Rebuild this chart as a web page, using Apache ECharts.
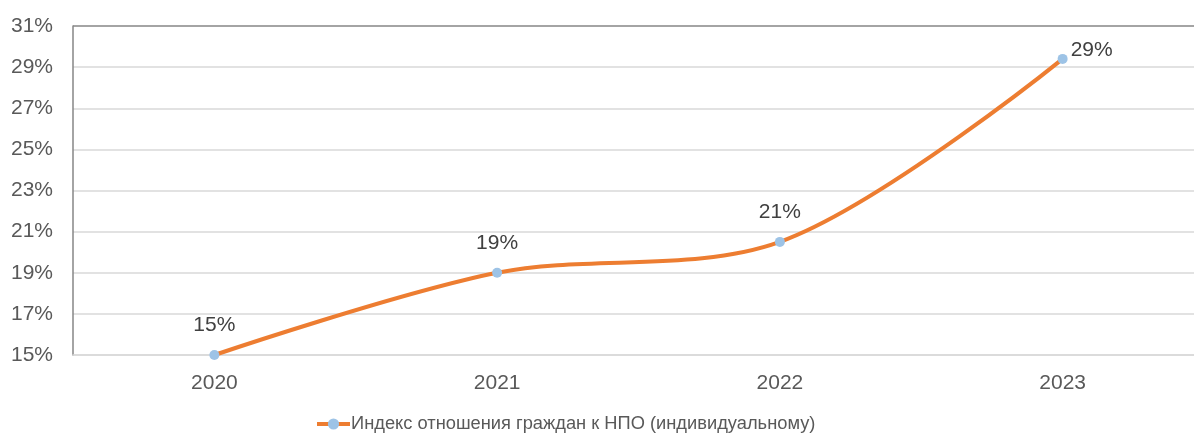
<!DOCTYPE html>
<html>
<head>
<meta charset="utf-8">
<script src="https://cdn.jsdelivr.net/npm/echarts@6/dist/echarts.min.js"></script>
<style>
  html, body { margin: 0; padding: 0; background: #fff; overflow: hidden; }
  /* область построения уходит за правый край окна, как в исходнике */
  #chart { width: 1204px; height: 433px; }
</style>
</head>
<body>
<div id="chart"></div>
<script>
// данные графика
const years = ["2020", "2021", "2022", "2023"]
const indexValues = [15.0, 19.0, 20.5, 29.4]
const valueLabels = ["15%", "19%", "21%", "29%"]
const seriesName = "Индекс отношения граждан к НПО (индивидуальному)"

const font = "Arial, 'Liberation Sans', sans-serif"

const myChart = echarts.init(document.getElementById("chart"))

const option = {
    animation: false,
    backgroundColor: "#fff",
    textStyle: { fontFamily: font },
    grid: { left: 73, top: 26, bottom: 78, right: 0, containLabel: false },
    legend: {
        top: 415,
        left: 315,
        padding: 0,
        itemWidth: 33,
        itemHeight: 14,
        itemGap: 0,
        lineStyle: { width: 4 },
        textStyle: { fontSize: 18.3, color: "#595959", fontFamily: font, padding: [0, 0, 0, -4] },
        data: [seriesName]
    },
    xAxis: {
        type: "category",
        data: years,
        boundaryGap: true,
        axisLine: { show: true, lineStyle: { color: "#D9D9D9", width: 1.5 } },
        axisTick: { show: false },
        axisLabel: { fontSize: 21, color: "#595959", margin: 18 }
    },
    yAxis: {
        type: "value",
        min: 15,
        max: 31,
        interval: 2,
        axisLine: { show: true, lineStyle: { color: "#868686", width: 1.5 } },
        axisTick: { show: false },
        axisLabel: { fontSize: 21, color: "#595959", margin: 20, formatter: v => v + "%" },
        splitLine: {
            lineStyle: {
                // верхняя линия темнее, как рамка
                color: ["#D9D9D9", "#D9D9D9", "#D9D9D9", "#D9D9D9", "#D9D9D9", "#D9D9D9", "#D9D9D9", "#D9D9D9", "#868686"],
                width: 1.5
            }
        }
    },
    series: [{
        name: seriesName,
        type: "line",
        data: indexValues.map((v, i) => {
            const item = { value: v }
            if (i === 3) item.label = { position: "right", distance: 3, offset: [0, -9] }
            return item
        }),
        smooth: 0.33,
        symbol: "circle",
        symbolSize: 10,
        showSymbol: true,
        lineStyle: { color: "#ED7D31", width: 4 },
        itemStyle: { color: "#9DC3E6" },
        label: {
            show: true,
            position: "top",
            distance: 14,
            fontSize: 21,
            color: "#404040",
            formatter: p => valueLabels[p.dataIndex]
        }
    }]
}

myChart.setOption(option)
</script>
</body>
</html>
